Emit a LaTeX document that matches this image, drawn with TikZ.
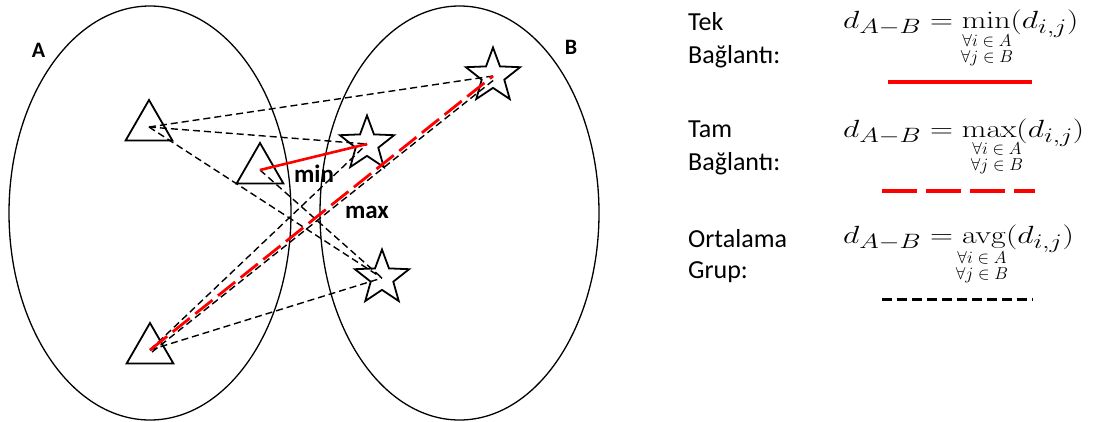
\documentclass[tikz,border=0pt]{standalone}
\usepackage{amsmath}
\usepackage{graphicx}
\usepackage[no-math]{fontspec}
\setmainfont{Carlito}
\usetikzlibrary{shapes.geometric}
\begin{document}
\begin{tikzpicture}[x=1pt,y=-1pt,
  set/.style={draw,line width=1.3pt},
  tri/.style={draw,regular polygon,regular polygon sides=3,minimum size=54pt,inner sep=0pt,line width=1.8pt},
  starnode/.style={draw,star,star points=5,star point ratio=2.4,minimum size=57pt,inner sep=0pt,line width=1.8pt},
  avg/.style={draw,black,line width=1.4pt,dash pattern=on 7pt off 4pt},
  single/.style={draw,red,line width=2.6pt},
  complete/.style={draw,red,line width=2.8pt,dash pattern=on 22pt off 7pt},
  setlabel/.style={font=\fontsize{22}{26}\selectfont\bfseries},
  mlabel/.style={font=\fontsize{25}{30}\selectfont\bfseries},
  legtext/.style={font=\fontsize{26}{33}\selectfont,anchor=base west,inner sep=0pt},
  formula/.style={font=\fontsize{28}{32}\selectfont,anchor=base west,inner sep=0pt},
  cond/.style={font=\fontsize{17}{20}\selectfont,anchor=base,inner sep=0pt}
]
\useasboundingbox (0,0) rectangle (1097,421);
% sets
\draw[set] (150,213) ellipse [x radius=141, y radius=207];
\draw[set] (459.5,213) ellipse [x radius=139.5, y radius=207];
\node[setlabel] (la) at (38.5,50) {A};
\node[setlabel] (lb) at (571,47) {B};
% points
\node[tri] (t1) at (149,127) {};
\node[tri] (t2) at (260,170) {};
\node[tri] (t3) at (150,350) {};
\node[starnode] (s1) at (493,76) {};
\node[starnode] (s2) at (367,144) {};
\node[starnode] (s3) at (382,278) {};
% average links
\draw[avg] (t1.center) -- (s1.center);
\draw[avg] (t1.center) -- (s2.center);
\draw[avg] (t1.center) -- (s3.center);
\draw[avg] (t2.center) -- (s2.center);
\draw[avg] (t2.center) -- (s3.center);
\draw[avg] (t3.center) -- (s2.center);
\draw[avg] (t3.center) -- (s3.center);
\draw[avg] ([xshift=2pt,yshift=-2pt]t3.center) -- ([xshift=2pt,yshift=-3pt]s1.center);
% single and complete links
\draw[single] (t2.center) -- (s2.center);
\draw[complete] (t3.center) -- (s1.center);
\node[mlabel] (min) at (314,174) {min};
\node[mlabel] (max) at (367,212) {max};
% legend texts
\node[legtext] (tek1) at (688,30) {Tek};
\node[legtext] (tek2) at (688,63) {Bağlantı:};
\node[legtext] (tam1) at (688,137) {Tam};
\node[legtext] (tam2) at (688,170) {Bağlantı:};
\node[legtext] (ort1) at (688,247) {Ortalama};
\node[legtext] (ort2) at (688,278) {Grup:};
% formulas
\node[formula] (f1) at (843,28) {\scalebox{1.28}[1]{$d_{A-B}=\min(d_{i,j})$}};
\node[cond] (f1a) at (987,46) {$\forall i\in A$};
\node[cond] (f1b) at (987,62) {$\forall j\in B$};
\node[formula] (f2) at (843,137) {\scalebox{1.28}[1]{$d_{A-B}=\max(d_{i,j})$}};
\node[cond] (f2a) at (997,154) {$\forall i\in A$};
\node[cond] (f2b) at (997,170) {$\forall j\in B$};
\node[formula] (f3) at (843,243) {\scalebox{1.28}[1]{$d_{A-B}=\operatorname{avg}(d_{i,j})$}};
\node[cond] (f3a) at (982,263) {$\forall i\in A$};
\node[cond] (f3b) at (982,279) {$\forall j\in B$};
% legend lines
\coordinate (l1a) at (888,82);
\coordinate (l1b) at (1032,82);
\coordinate (l2a) at (882,191);
\coordinate (l2b) at (1035,191);
\coordinate (l3a) at (882,299);
\coordinate (l3b) at (1033,299);
\draw[red,line width=3.2pt] (l1a) -- (l1b);
\draw[red,line width=3.2pt,dash pattern=on 35pt off 9pt] (l2a) -- (l2b);
\draw[black,line width=3pt,dash pattern=on 10pt off 5pt] (l3a) -- (l3b);
\end{tikzpicture}
\end{document}
